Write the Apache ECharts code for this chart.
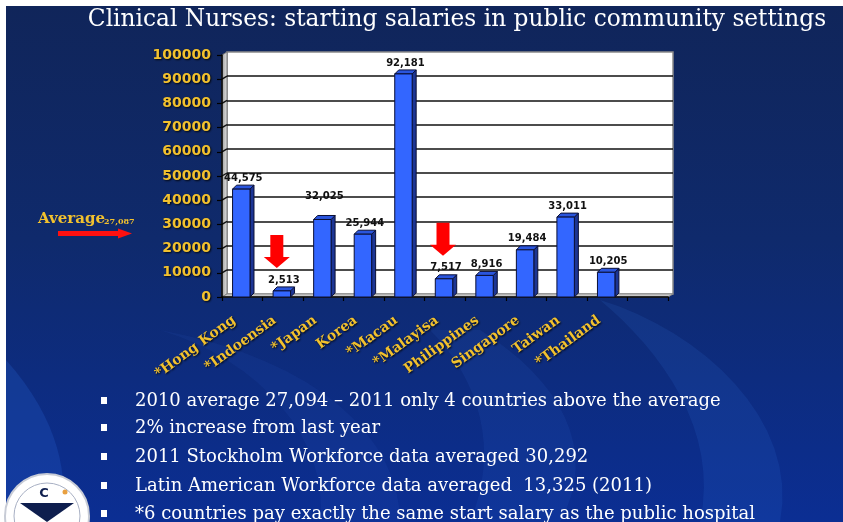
<!DOCTYPE html>
<html>
<head>
<meta charset="utf-8">
<script src="https://cdn.jsdelivr.net/npm/echarts@6/dist/echarts.min.js"></script>
<style>
  html, body { margin: 0; padding: 0; background: #ffffff; }
  #chart { width: 843px; height: 522px; }
</style>
</head>
<body>
<div id="chart"></div>
<script>
// ---- data ----
const countries = ['*Hong Kong', '*Indoensia', '*Japan', 'Korea', '*Macau', '*Malayisa', 'Philippines', 'Singapore', 'Taiwan', '*Thailand'];
const salaries = [44575, 2513, 32025, 25944, 92181, 7517, 8916, 19484, 33011, 10205];
const yTicks = [0, 10000, 20000, 30000, 40000, 50000, 60000, 70000, 80000, 90000, 100000];
const averageSalary = 27087;
const flaggedCountries = ['*Indoensia', '*Malayisa'];
const titleText = 'Clinical Nurses: starting salaries in public community settings';
const bulletLines = [
  '2010 average 27,094 \u2013 2011 only 4 countries above the average',
  '2% increase from last year',
  '2011 Stockholm Workforce data averaged 30,292',
  'Latin American Workforce data averaged  13,325 (2011)',
  '*6 countries pay exactly the same start salary as the public hospital'
];

// ---- styling ----
const GOLD = '#F2C12E';
const SERIF = '"DejaVu Serif", "Liberation Serif", serif';
const SANS = '"DejaVu Sans", Verdana, sans-serif';
const FRONT = { left: 222, top: 55, width: 446, height: 242 };   // front plane of the 3D plot box
const DEPTH = { dx: 5, dy: 3 };                                     // back wall offset
const BAR = { front: '#3366FF', side: '#1C3594', top: '#2A55DD', edge: '#0A0F35' };
const labelLift = { '*Japan': 12 };                                // extra lift for crowded labels
const arrowShift = { '*Indoensia': -4 };                           // nudges for the red flags

const fmt = v => v.toLocaleString('en-US');
const goldShadow = { textShadowColor: 'rgba(0,0,0,0.85)', textShadowBlur: 2, textShadowOffsetX: 1, textShadowOffsetY: 1 };
const linear = (x2, y2, stops) => ({ type: 'linear', x: 0, y: 0, x2, y2,
  colorStops: stops.map(([offset, color]) => ({ offset, color })), global: false });

// samples a chain of cubic curves into polygon points (for the soft backdrop bands)
function curvePoints(start, curves) {
  const pts = [start];
  let p0 = start;
  curves.forEach(([c1, c2, p3]) => {
    for (let k = 1; k <= 16; k++) {
      const t = k / 16, u = 1 - t;
      pts.push([
        u * u * u * p0[0] + 3 * u * u * t * c1[0] + 3 * u * t * t * c2[0] + t * t * t * p3[0],
        u * u * u * p0[1] + 3 * u * u * t * c1[1] + 3 * u * t * t * c2[1] + t * t * t * p3[1]
      ]);
    }
    p0 = p3;
  });
  return pts;
}

const chart = echarts.init(document.getElementById('chart'), null, { renderer: 'canvas' });

function renderBar(params, api) {
  const idx = api.value(0);
  const val = api.value(1);
  const top = api.coord([idx, val]);
  const bot = api.coord([idx, 0]);
  const slot = api.size([1, 0])[0];
  const w = slot * 0.43;
  const dx = 4, dy = 4;
  const x0 = top[0] - w / 2 - 1;
  const name = countries[idx];
  const children = [
    { type: 'polygon', shape: { points: [[x0 + w, top[1]], [x0 + w + dx, top[1] - dy], [x0 + w + dx, bot[1] - dy], [x0 + w, bot[1]]] },
      style: { fill: BAR.side, stroke: BAR.edge, lineWidth: 1 } },
    { type: 'polygon', shape: { points: [[x0, top[1]], [x0 + dx, top[1] - dy], [x0 + w + dx, top[1] - dy], [x0 + w, top[1]]] },
      style: { fill: BAR.top, stroke: BAR.edge, lineWidth: 1 } },
    { type: 'rect', shape: { x: x0, y: top[1], width: w, height: bot[1] - top[1] },
      style: { fill: BAR.front, stroke: BAR.edge, lineWidth: 1 } },
    { type: 'text', style: { text: fmt(val), x: x0 + w / 2 + dx / 2, y: top[1] - dy - 2 - (labelLift[name] || 0),
      align: 'center', verticalAlign: 'bottom', font: 'bold 10px ' + SANS, fill: '#111' } }
  ];
  if (flaggedCountries.includes(name)) {
    const cx = x0 + w / 2 - 1 + (arrowShift[name] || 0);
    const tip = top[1] - 23;
    const h = 33, head = 11, half = 13, shaft = 6.5;
    children.push({ type: 'polygon', shape: { points: [
      [cx - shaft, tip - h], [cx + shaft, tip - h], [cx + shaft, tip - head], [cx + half, tip - head],
      [cx, tip], [cx - half, tip - head], [cx - shaft, tip - head]] },
      style: { fill: '#FF0000' } });
  }
  return { type: 'group', children };
}

const backGrid = { left: FRONT.left + DEPTH.dx, top: FRONT.top - DEPTH.dy, width: FRONT.width, height: FRONT.height };

chart.setOption({
  animation: false,
  backgroundColor: 'transparent',
  grid: [
    { left: FRONT.left, top: FRONT.top, width: FRONT.width, height: FRONT.height, containLabel: false },
    Object.assign({ containLabel: false }, backGrid)
  ],
  xAxis: [
    { gridIndex: 0, type: 'category', data: countries, max: countries.length,
      axisLine: { show: true, lineStyle: { color: '#000', width: 1.5 } },
      axisTick: { show: true, length: 4, lineStyle: { color: '#000', width: 1.2 } },
      axisLabel: { interval: 0, rotate: 36, margin: 16, padding: [0, 10, 0, 0], color: GOLD, fontFamily: SERIF, fontWeight: 'bold', fontSize: 14,
        formatter: (v, i) => (i < countries.length ? v : ''), ...goldShadow },
      splitLine: { show: false } },
    { gridIndex: 1, type: 'category', data: countries, max: countries.length, show: false }
  ],
  yAxis: [
    { gridIndex: 0, type: 'value', min: yTicks[0], max: yTicks[yTicks.length - 1], interval: yTicks[1] - yTicks[0],
      axisLine: { show: true, lineStyle: { color: '#000', width: 1.5 } },
      axisTick: { show: true, length: 5, lineStyle: { color: '#000', width: 1.2 } },
      axisLabel: { margin: 11, color: GOLD, fontFamily: SANS, fontWeight: 'bold', fontSize: 14, formatter: v => String(v), ...goldShadow },
      splitLine: { show: false } },
    { gridIndex: 1, type: 'value', min: yTicks[0], max: yTicks[yTicks.length - 1], interval: yTicks[1] - yTicks[0],
      axisLine: { show: false }, axisTick: { show: false }, axisLabel: { show: false },
      splitLine: { show: true, showMinLine: false, showMaxLine: false, lineStyle: { color: '#111', width: 1.6 } } }
  ],
  series: [
    { type: 'custom', xAxisIndex: 0, yAxisIndex: 0, renderItem: renderBar, z: 5,
      data: salaries.map((v, i) => [i, v]) }
  ]
});

// ---- decorations placed with the chart's own coordinate conversion ----
const yPix = v => chart.convertToPixel({ yAxisIndex: 0 }, v);
const zeroY = yPix(0), maxY = yPix(100000);
const leftX = FRONT.left, rightX = FRONT.left + FRONT.width;
const dx = DEPTH.dx, dy = DEPTH.dy;

const graphics = [];

// slide backdrop
graphics.push({ type: 'rect', z: -20, shape: { x: 6, y: 6, width: 837, height: 516 },
  style: { fill: linear(0, 1, [[0, '#10255A'], [0.45, '#0F2A6C'], [1, '#0B2E93']]) } });
const bands = [
  { pts: curvePoints([6, 360], [[[60, 420], [70, 480], [60, 522]]]).concat([[6, 522]]), fill: 'rgba(40,100,210,0.25)' },
  { pts: curvePoints([430, 330], [[[480, 380], [500, 450], [470, 522]], [[520, 522], [540, 522], [560, 522]], [[600, 450], [560, 380], [480, 330]]]), fill: 'rgba(60,120,230,0.10)' },
  { pts: curvePoints([600, 300], [[[700, 330], [800, 420], [780, 522]], [[750, 522], [720, 522], [700, 522]], [[720, 430], [660, 350], [600, 300]]]), fill: 'rgba(60,130,235,0.12)' },
  { pts: curvePoints([160, 330], [[[260, 360], [330, 440], [320, 522]], [[350, 522], [380, 522], [400, 522]], [[400, 440], [320, 360], [160, 330]]]), fill: 'rgba(60,120,230,0.08)' }
];
bands.forEach(b => graphics.push({ type: 'polygon', z: -19, shape: { points: b.pts }, style: { fill: b.fill } }));

// back wall
graphics.push({ type: 'rect', z: -10, shape: { x: leftX + dx, y: maxY - dy, width: FRONT.width, height: zeroY - maxY },
  style: { fill: '#FFFFFF', stroke: '#8A8A8A', lineWidth: 1.5 } });
// left side wall
graphics.push({ type: 'polygon', z: -9, shape: { points: [[leftX, maxY], [leftX + dx, maxY - dy], [leftX + dx, zeroY - dy], [leftX, zeroY]] },
  style: { fill: linear(1, 0, [[0, '#9A9A9A'], [1, '#E6E6E6']]), stroke: '#777', lineWidth: 1 } });
yTicks.slice(1, -1).forEach(t => {
  const y = yPix(t);
  graphics.push({ type: 'line', z: -8, shape: { x1: leftX, y1: y, x2: leftX + dx, y2: y - dy }, style: { stroke: '#111', lineWidth: 1.4 } });
});
// floor
graphics.push({ type: 'polygon', z: -9, shape: { points: [[leftX, zeroY], [leftX + dx, zeroY - dy], [rightX + dx, zeroY - dy], [rightX, zeroY]] },
  style: { fill: linear(0, 1, [[0, '#E8E8E8'], [1, '#A8A8A8']]), stroke: '#888', lineWidth: 1 } });

// title
graphics.push({ type: 'text', z: 10, style: { text: titleText, x: 457, y: 20, align: 'center', verticalAlign: 'middle',
  font: '23.3px ' + SERIF, fill: '#FFFFFF', shadowColor: 'rgba(0,0,0,0.9)', shadowBlur: 2, shadowOffsetX: 1, shadowOffsetY: 1 } });

// average marker
const avgY = yPix(averageSalary);
graphics.push({ type: 'text', z: 10, style: { text: 'Average', x: 38, y: avgY - 5, align: 'left', verticalAlign: 'bottom',
  font: 'bold 15px ' + SERIF, fill: GOLD, shadowColor: 'rgba(0,0,0,0.8)', shadowBlur: 2, shadowOffsetX: 1, shadowOffsetY: 1 } });
graphics.push({ type: 'text', z: 10, style: { text: fmt(averageSalary), x: 104, y: avgY - 6, align: 'left', verticalAlign: 'bottom',
  font: 'bold 8px ' + SERIF, fill: GOLD } });
graphics.push({ type: 'polygon', z: 10, shape: { points: [[58, avgY - 0.5], [118, avgY - 0.5], [118, avgY - 3], [132, avgY + 2], [118, avgY + 7], [118, avgY + 4.5], [58, avgY + 4.5]] },
  style: { fill: '#FF1010' } });

// bullet list
const bulletY = [401, 428, 457, 486, 514];
bulletLines.forEach((line, i) => {
  graphics.push({ type: 'rect', z: 10, shape: { x: 101, y: bulletY[i] - 4, width: 6, height: 7 }, style: { fill: '#FFFFFF' } });
  graphics.push({ type: 'text', z: 10, style: { text: line, x: 135, y: bulletY[i], align: 'left', verticalAlign: 'middle',
    font: '18px ' + SERIF, fill: '#FFFFFF', shadowColor: 'rgba(0,0,0,0.6)', shadowBlur: 2, shadowOffsetX: 1, shadowOffsetY: 1 } });
});

// emblem, lower left
graphics.push({ type: 'circle', z: 9, shape: { cx: 47, cy: 516, r: 42 }, style: { fill: '#FFFFFF', stroke: '#C8CCD6', lineWidth: 2 } });
graphics.push({ type: 'circle', z: 9, shape: { cx: 47, cy: 516, r: 33 }, style: { fill: 'none', stroke: '#A8B0C4', lineWidth: 1 } });
graphics.push({ type: 'polygon', z: 9, shape: { points: [[20, 503], [74, 503], [47, 522]] }, style: { fill: '#0E1E4E' } });
graphics.push({ type: 'text', z: 9, style: { text: 'C', x: 44, y: 494, align: 'center', verticalAlign: 'middle', font: 'bold 13px ' + SANS, fill: '#0E1E4E' } });
graphics.push({ type: 'circle', z: 9, shape: { cx: 65, cy: 492, r: 2.5 }, style: { fill: '#E8A040' } });

chart.setOption({ graphic: { elements: graphics } });
</script>
</body>
</html>
